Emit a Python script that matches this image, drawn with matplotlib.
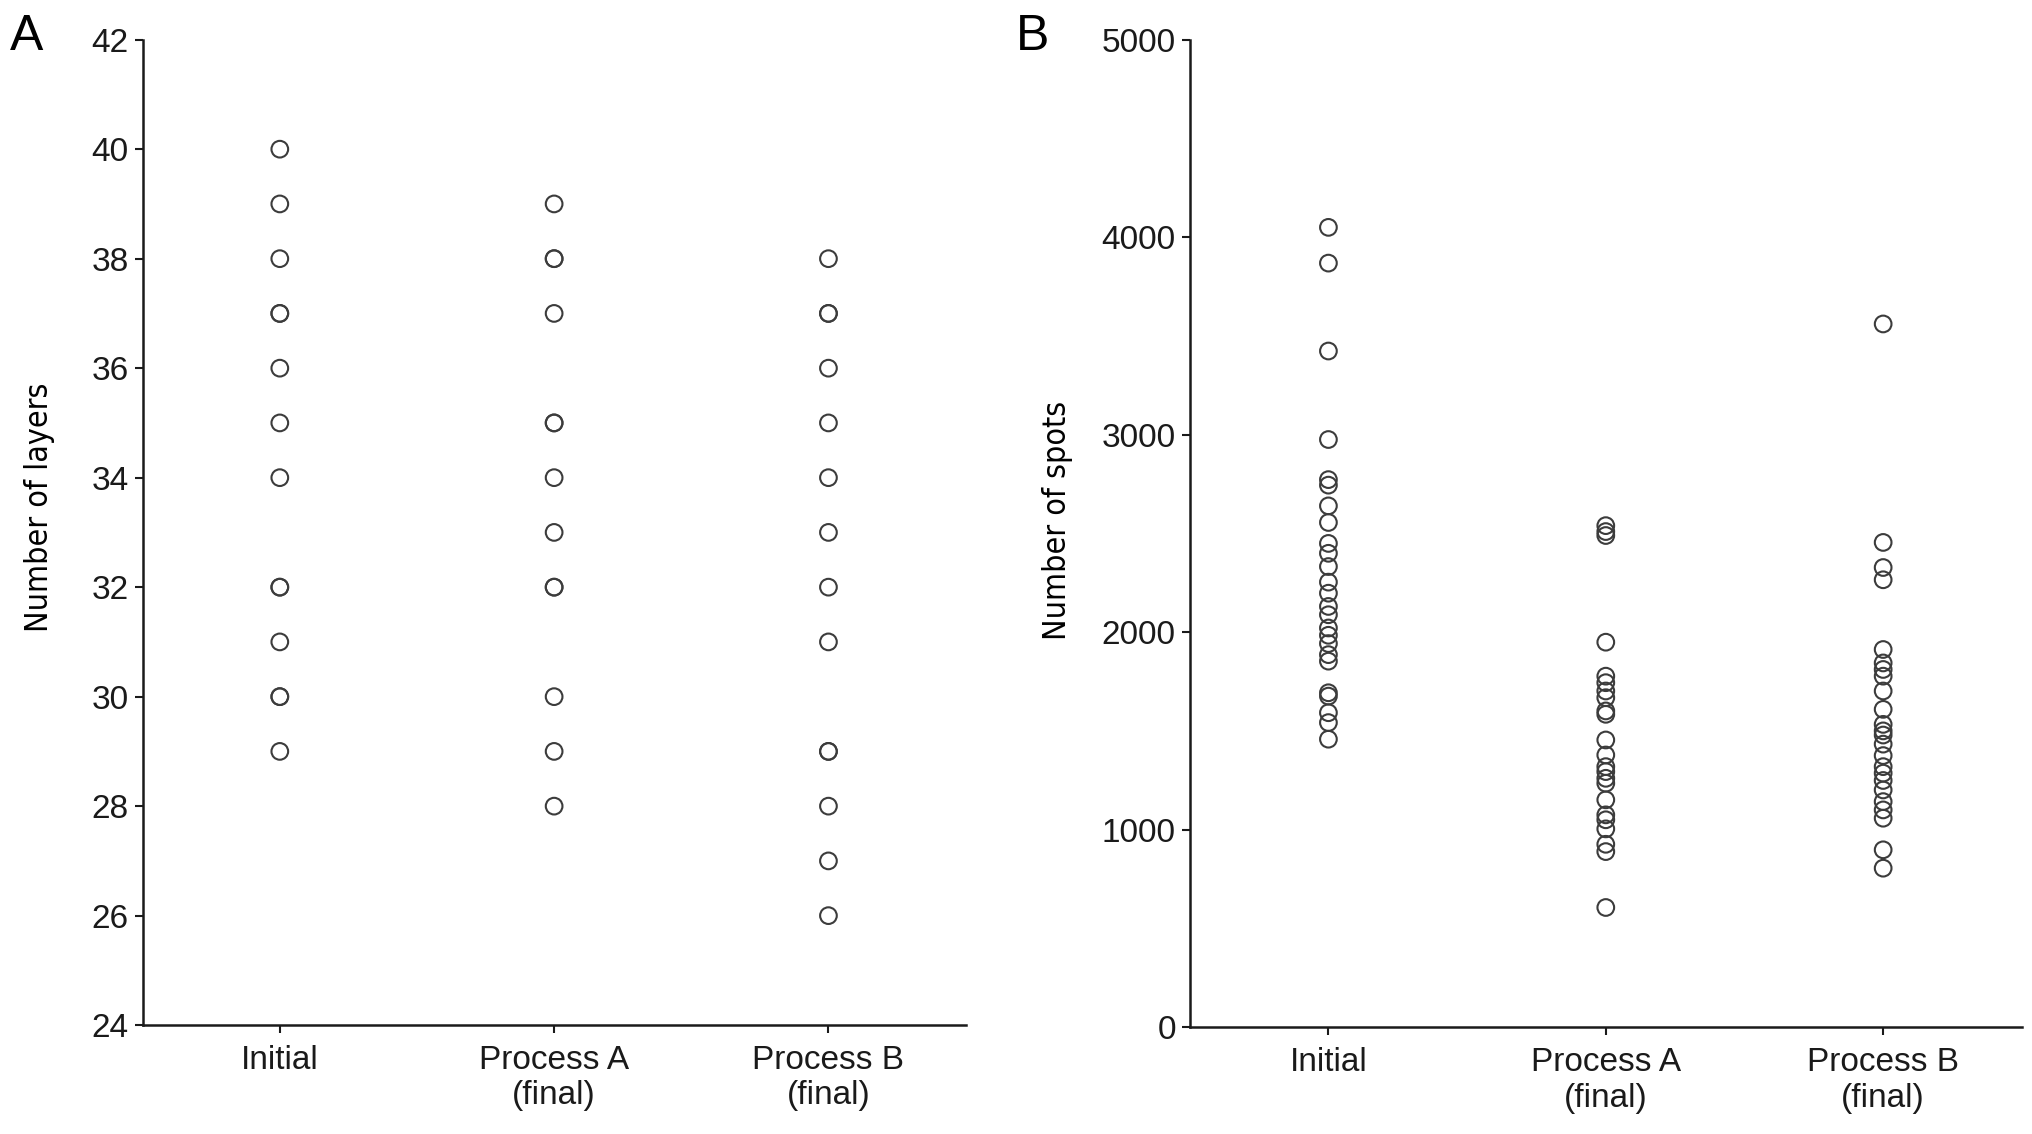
import matplotlib.pyplot as plt

plt.rcParams['font.family'] = ['Liberation Sans', 'DejaVu Sans']

groups = ['Initial', 'Process A\n(final)', 'Process B\n(final)']

# panel A - number of layers
layers_initial = [40, 39, 38, 37, 37, 36, 35, 34, 32, 32, 31, 30, 30, 29]
layers_proc_a = [39, 38, 38, 37, 35, 35, 34, 33, 32, 32, 30, 29, 28]
layers_proc_b = [38, 37, 37, 36, 35, 34, 33, 32, 31, 29, 29, 28, 27, 26]

# panel B - number of spots
spots_initial = [4050, 3869, 3424, 2976, 2773, 2745, 2640, 2556, 2450, 2400,
                 2333, 2254, 2198, 2131, 2089, 2022, 1985, 1943, 1887, 1854,
                 1694, 1677, 1593, 1543, 1459]
spots_proc_a = [2540, 2510, 2490, 1950, 1778, 1745, 1703, 1669, 1602, 1585,
                1455, 1379, 1320, 1295, 1261, 1236, 1152, 1076, 1051, 1005,
                927, 890, 607]
spots_proc_b = [3561, 2455, 2328, 2266, 1913, 1845, 1812, 1778, 1703, 1610,
                1534, 1501, 1480, 1434, 1376, 1320, 1287, 1250, 1202, 1143,
                1101, 1059, 899, 806]

fig = plt.figure(figsize=(20.32, 11.34), dpi=100)
ax1 = fig.add_axes([0.0702, 0.096, 0.405, 0.869])
ax2 = fig.add_axes([0.5855, 0.094, 0.4095, 0.871])


def draw(ax, cols, ylim, yticks, ylabel, label_xy):
    for i, vals in enumerate(cols):
        ax.scatter([i + 1] * len(vals), vals, s=12 ** 2, facecolors='none',
                   edgecolors='#3c3c3c', linewidths=1.5, zorder=3)
    ax.set_xlim(0.5, 3.5)
    ax.set_ylim(*ylim)
    ax.set_yticks(yticks)
    ax.set_xticks([1, 2, 3])
    ax.set_xticklabels(groups, linespacing=1.2)
    for s in ['top', 'right']:
        ax.spines[s].set_visible(False)
    for s in ['left', 'bottom']:
        ax.spines[s].set_linewidth(1.8)
        ax.spines[s].set_color('#1a1a1a')
    ax.tick_params(axis='both', direction='out', length=6, width=1.5,
                   labelsize=24, colors='#1a1a1a', pad=4)
    ax.tick_params(axis='x', pad=8)
    ax.set_ylabel(ylabel, fontsize=23, family='DejaVu Sans', fontstretch='condensed')
    ax.yaxis.set_label_coords(*label_xy)


draw(ax1, [layers_initial, layers_proc_a, layers_proc_b], (24, 42),
     range(24, 43, 2), 'Number of layers', (-0.106, 0.525))
draw(ax2, [spots_initial, spots_proc_a, spots_proc_b], (0, 5000),
     range(0, 5001, 1000), 'Number of spots', (-0.140, 0.513))

fig.text(0.005, 0.956, 'A', fontsize=36)
fig.text(0.5, 0.956, 'B', fontsize=36)

plt.savefig('out.png', dpi=100)
